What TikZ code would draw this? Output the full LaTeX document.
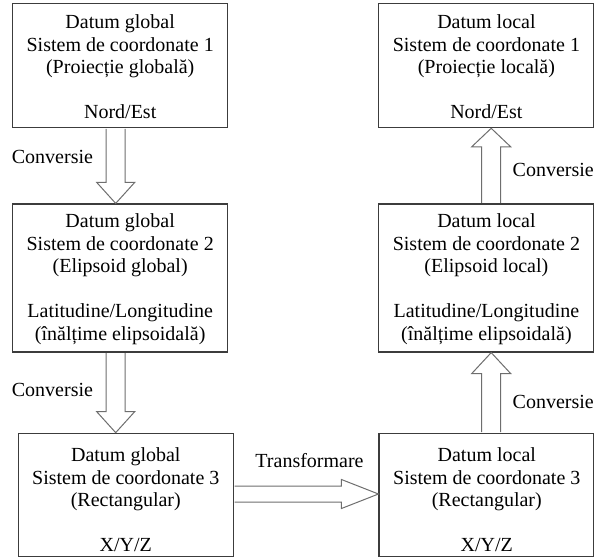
\documentclass[tikz,border=0pt]{standalone}
\usepackage{fontspec}
\setmainfont{Liberation Serif}
\usetikzlibrary{calc}
\definecolor{boxline}{HTML}{3C3C3C}
\definecolor{arrline}{HTML}{6E6E6E}
\begin{document}
\begin{tikzpicture}[x=1pt,y=-1pt,
  box/.style={draw=boxline, line width=1.2pt, inner sep=0pt, minimum width=215pt},
  txt/.style={align=center, font=\fontsize{20}{22.5}\selectfont, inner sep=0pt, text=black},
  bigarrow/.style={draw=arrline, line width=1pt, fill=white, line join=miter},
  lbl/.style={font=\fontsize{20}{22.5}\selectfont, inner sep=0pt, text=black}]
\useasboundingbox (0,0) rectangle (594,557);
% boxes
\node[box, minimum height=124.4pt] (b1) at (120.2,65.5) {};
\node[box, minimum height=148pt] (b2) at (120.2,278) {};
\node[box, minimum height=123.5pt] (b3) at (125.8,495) {};
\node[box, minimum height=123.5pt, minimum width=214.3pt] (b4) at (486.2,495) {};
\node[box, minimum height=148pt, minimum width=214.6pt] (b5) at (486,278) {};
\node[box, minimum height=124.4pt, minimum width=214.6pt] (b6) at (486,65.5) {};
% texts
\node[txt] (t1) at (120.2,67) {Datum global\\Sistem de coordonate 1\\(Proiecție globală)\\[22.5pt]Nord/Est};
\node[txt] (t2) at (120.2,279) {Datum global\\Sistem de coordonate 2\\(Elipsoid global)\\[22.5pt]Latitudine/Longitudine\\(înălțime elipsoidală)};
\node[txt] (t3) at (125.8,500) {Datum global\\Sistem de coordonate 3\\(Rectangular)\\[22.5pt]X/Y/Z};
\node[txt] (t4) at (486.8,500) {Datum local\\Sistem de coordonate 3\\(Rectangular)\\[22.5pt]X/Y/Z};
\node[txt] (t5) at (486.4,279) {Datum local\\Sistem de coordonate 2\\(Elipsoid local)\\[22.5pt]Latitudine/Longitudine\\(înălțime elipsoidală)};
\node[txt] (t6) at (486.4,67) {Datum local\\Sistem de coordonate 1\\(Proiecție locală)\\[22.5pt]Nord/Est};
% arrow axes
\coordinate (axL) at (115.7,0);
\coordinate (axR) at (491.2,0);
\coordinate (ayB) at (0,494);
% down arrows
\draw[bigarrow] let \p1=(b1.south -| axL), \p2=(b2.north -| axL) in
  (\x1-9.5pt,\y1-0.6pt) -- (\x1-9.5pt,\y2+21pt) -- (\x1-19pt,\y2+21pt) -- (\x2,\y2)
  -- (\x1+19pt,\y2+21pt) -- (\x1+9.5pt,\y2+21pt) -- (\x1+9.5pt,\y1-0.6pt);
\draw[bigarrow] let \p1=(b2.south -| axL), \p2=(b3.north -| axL) in
  (\x1-9.5pt,\y1-0.6pt) -- (\x1-9.5pt,\y2+21pt) -- (\x1-19pt,\y2+21pt) -- (\x2,\y2)
  -- (\x1+19pt,\y2+21pt) -- (\x1+9.5pt,\y2+21pt) -- (\x1+9.5pt,\y1-0.6pt);
% up arrows
\draw[bigarrow] let \p1=(b4.north -| axR), \p2=(b5.south -| axR) in
  (\x1-9.5pt,\y1+0.6pt) -- (\x1-9.5pt,\y2-21pt) -- (\x1-19.5pt,\y2-21pt) -- (\x2,\y2)
  -- (\x1+19.5pt,\y2-21pt) -- (\x1+9.5pt,\y2-21pt) -- (\x1+9.5pt,\y1+0.6pt);
\draw[bigarrow] let \p1=(b5.north -| axR), \p2=(b6.south -| axR) in
  (\x1-9.5pt,\y1+0.6pt) -- (\x1-9.5pt,\y2-18.5pt) -- (\x1-19.5pt,\y2-18.5pt) -- (\x2,\y2)
  -- (\x1+19.5pt,\y2-18.5pt) -- (\x1+9.5pt,\y2-18.5pt) -- (\x1+9.5pt,\y1+0.6pt);
% horizontal arrow
\draw[bigarrow] let \p1=(b3.east |- ayB), \p2=(b4.west |- ayB) in
  (\x1+0.6pt,\y1+8pt) -- (\x2-37pt,\y1+8pt) -- (\x2-37pt,\y1+14.5pt) -- (\x2,\y2)
  -- (\x2-37pt,\y1-14.5pt) -- (\x2-37pt,\y1-8pt) -- (\x1+0.6pt,\y1-8pt);
% labels
\node[lbl, anchor=west] (c1) at (11.7,157) {Conversie};
\node[lbl, anchor=west] (c2) at (11.7,390) {Conversie};
\node[lbl, anchor=west] (c3) at (512.5,170) {Conversie};
\node[lbl, anchor=west] (c4) at (512.5,401.5) {Conversie};
\node[lbl] (tr) at (309.5,460.5) {Transformare};
\end{tikzpicture}
\end{document}
